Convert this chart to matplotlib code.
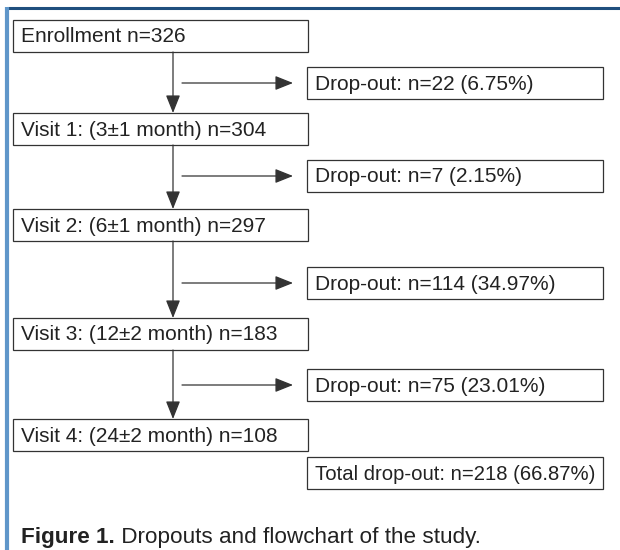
import matplotlib.pyplot as plt
from matplotlib.patches import Rectangle

plt.rcParams['font.family'] = ['Liberation Sans', 'DejaVu Sans']

# flowchart contents
stage_labels = [
    "Enrollment n=326",
    "Visit 1: (3\u00b11 month) n=304",
    "Visit 2: (6\u00b11 month) n=297",
    "Visit 3: (12\u00b12 month) n=183",
    "Visit 4: (24\u00b12 month) n=108",
]
dropout_labels = [
    "Drop-out: n=22 (6.75%)",
    "Drop-out: n=7 (2.15%)",
    "Drop-out: n=114 (34.97%)",
    "Drop-out: n=75 (23.01%)",
]
total_label = "Total drop-out: n=218 (66.87%)"
caption_bold = "Figure 1."
caption_rest = " Dropouts and flowchart of the study."

# layout (pixel coords, y down)
stage_tops = [20, 113, 209, 318, 419]
dropout_tops = [67, 160, 267, 369]
total_top = 457
box_h = 32
stage_x0, stage_x1 = 13, 308
drop_x0, drop_x1 = 307, 603
spine_x = 173
FS = 15.0
CAP_FS = 16.2
EDGE = '#333333'
TXT = '#222222'

fig = plt.figure(figsize=(6.2, 5.5), dpi=100)
ax = fig.add_axes([0, 0, 1, 1])
ax.set_xlim(0, 620)
ax.set_ylim(550, 0)
ax.axis('off')

# frame lines
ax.plot([7, 620], [8, 8], color='#1f4f7e', lw=2.2, solid_capstyle='butt')
ax.plot([7, 7], [7, 550], color='#5f96c9', lw=3, solid_capstyle='butt')


def box(x0, x1, top, label, fs=FS):
    ax.add_patch(Rectangle((x0, top), x1 - x0, box_h, fill=False,
                           edgecolor=EDGE, lw=0.9))
    ax.text(x0 + 8, top + box_h / 2 + 1, label, fontsize=fs,
            va='center', ha='left', color=TXT)


for top, lab in zip(stage_tops, stage_labels):
    box(stage_x0, stage_x1, top, lab)

for top, lab in zip(dropout_tops, dropout_labels):
    box(drop_x0, drop_x1, top, lab)

box(drop_x0, drop_x1, total_top, total_label, fs=14.6)

arrow = dict(arrowstyle='-|>,head_length=0.5,head_width=0.2', color='#333333',
             lw=0.9, mutation_scale=22, shrinkA=0, shrinkB=0)

for i in range(len(stage_tops) - 1):
    ax.annotate("", xy=(spine_x, stage_tops[i + 1]),
                xytext=(spine_x, stage_tops[i] + box_h), arrowprops=arrow)
    ym = dropout_tops[i] + box_h / 2
    ax.annotate("", xy=(293, ym), xytext=(182, ym), arrowprops=arrow)

# caption
t = ax.text(21, 537, caption_bold, fontsize=CAP_FS, fontweight='bold',
            va='center', ha='left', color=TXT)
ax.annotate(caption_rest, xy=(1, 0.5), xycoords=t, fontsize=CAP_FS,
            va='center', ha='left', color=TXT)

fig.savefig('out.png', dpi=100)
